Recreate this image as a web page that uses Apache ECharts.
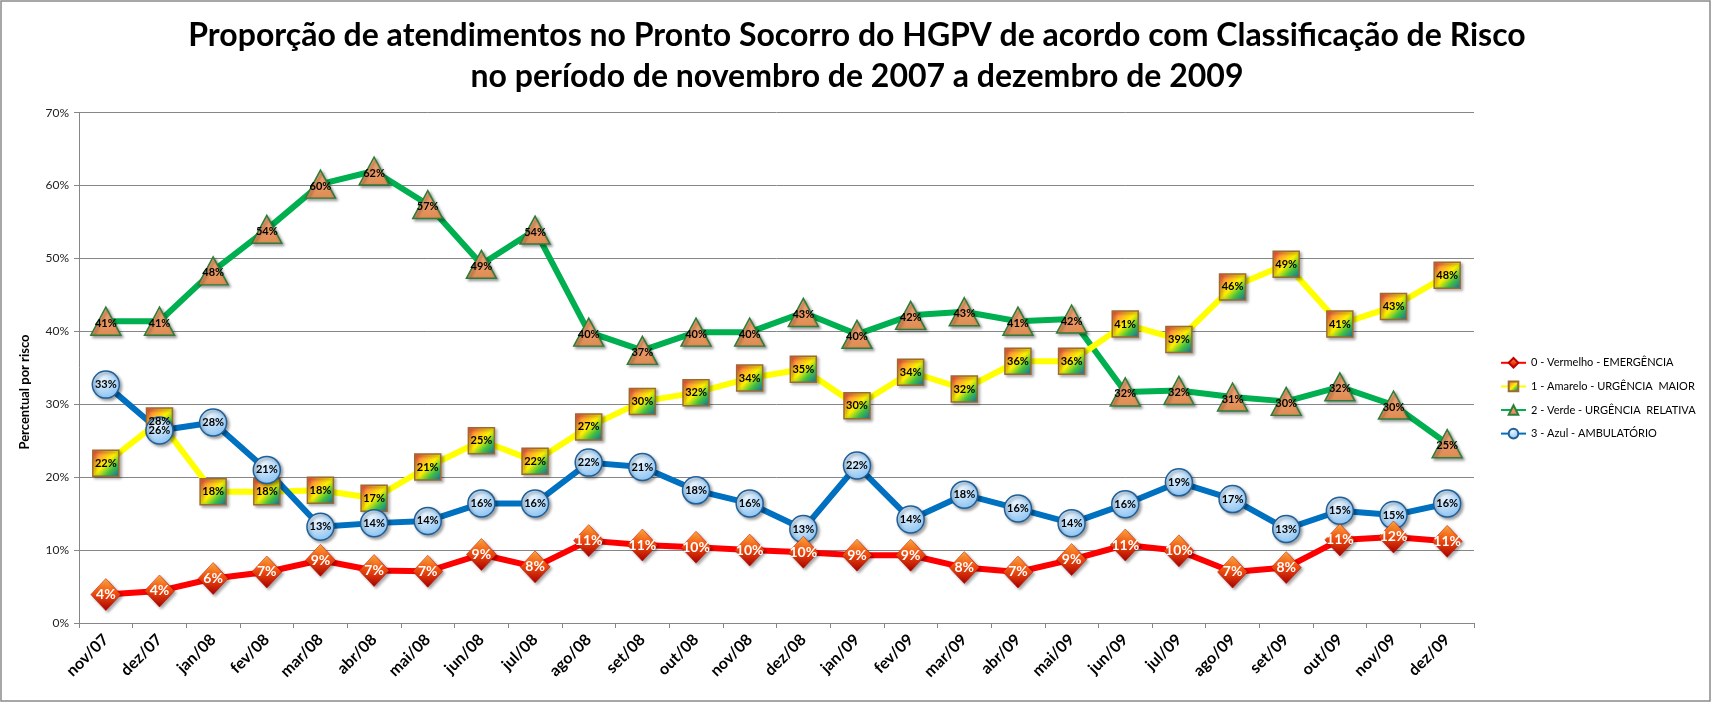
<!DOCTYPE html>
<html>
<head>
<meta charset="utf-8">
<script src="https://cdn.jsdelivr.net/npm/echarts@6/dist/echarts.min.js"></script>
<style>
html,body{margin:0;padding:0;background:#fff;}
#chart{width:1712px;height:704px;}
</style>
</head>
<body>
<div id="chart"></div>
<script>
const categories = ['nov/07','dez/07','jan/08','fev/08','mar/08','abr/08','mai/08','jun/08','jul/08','ago/08','set/08','out/08','nov/08','dez/08','jan/09','fev/09','mar/09','abr/09','mai/09','jun/09','jul/09','ago/09','set/09','out/09','nov/09','dez/09'];
const vermelho = [3.9,4.4,6.1,7.0,8.6,7.2,7.1,9.4,7.7,11.3,10.7,10.4,10.0,9.7,9.3,9.3,7.6,7.0,8.7,10.7,9.9,7.0,7.6,11.4,11.8,11.2];
const amarelo = [21.9,27.7,18.0,18.0,18.2,17.1,21.4,25.0,22.2,26.9,30.4,31.6,33.6,34.8,29.8,34.4,32.1,35.9,35.9,41.0,38.9,46.1,49.2,41.0,43.4,47.7];
const verde = [41.4,41.4,48.3,54.0,60.2,62.0,57.4,49.2,53.9,39.9,37.4,39.9,39.9,42.6,39.6,42.2,42.7,41.4,41.7,31.7,31.9,31.0,30.4,32.4,29.9,24.6];
const azul = [32.7,26.4,27.5,21.0,13.2,13.7,14.0,16.4,16.4,22.0,21.4,18.2,16.4,12.9,21.6,14.2,17.6,15.7,13.7,16.3,19.3,17.0,12.9,15.4,14.8,16.4];
const seriesNames = ['0 - Vermelho - EMERGÊNCIA','1 - Amarelo - URGÊNCIA  MAIOR','2 - Verde - URGÊNCIA  RELATIVA','3 - Azul - AMBULATÓRIO'];
const yTicks = {min:0, max:70, interval:10};
const titleLines = ['Proporção de atendimentos no Pronto Socorro do HGPV de acordo com Classificação de Risco','no período de novembro de 2007 a dezembro de 2009'];
const yAxisTitle = 'Percentual por risco';

const FONT = 'Lato, "Open Sans", sans-serif';
const shadow = {shadowBlur:3, shadowOffsetX:2, shadowOffsetY:2, shadowColor:'rgba(0,0,0,0.35)'};
const fmt = p => Math.round(p.value) + '%';

const chart = echarts.init(document.getElementById('chart'));
chart.setOption({
  backgroundColor:'#ffffff',
  animation:false,
  graphic:[
    {type:'rect', shape:{x:1,y:1,width:1709,height:700}, style:{fill:'none', stroke:'#8a8a8a', lineWidth:1.5}, silent:true},
    {type:'text', x:857, y:36, style:{text:titleLines[0], font:'bold 32px '+FONT, fill:'#000', textAlign:'center', textVerticalAlign:'middle'}},
    {type:'text', x:857, y:77, style:{text:titleLines[1], font:'bold 32px '+FONT, fill:'#000', textAlign:'center', textVerticalAlign:'middle'}},
    {type:'text', x:25, y:392, rotation:Math.PI/2, style:{text:yAxisTitle, font:'bold 13px '+FONT, fill:'#000', textAlign:'center', textVerticalAlign:'middle'}}
  ],
  grid:{left:79, right:238, top:112.7, bottom:81, containLabel:false},
  legend:{
    orient:'vertical', left:1495, top:352, itemWidth:25, itemHeight:12, itemGap:12,
    textStyle:{fontFamily:FONT, fontSize:11, color:'#000'},
    data:seriesNames
  },
  xAxis:{
    type:'category', data:categories, boundaryGap:true,
    axisLine:{lineStyle:{color:'#868686', width:1}},
    axisTick:{show:true, length:5, lineStyle:{color:'#868686'}},
    axisLabel:{rotate:45, fontFamily:FONT, fontWeight:'bold', fontSize:16, color:'#000', margin:14, interval:0}
  },
  yAxis:{
    type:'value', min:yTicks.min, max:yTicks.max, interval:yTicks.interval,
    axisLine:{show:true, lineStyle:{color:'#868686'}},
    axisTick:{show:true, length:5, lineStyle:{color:'#868686'}},
    splitLine:{lineStyle:{color:'#868686', width:1}},
    axisLabel:{formatter:'{value}%', fontFamily:FONT, fontSize:12, color:'#222', margin:10}
  },
  series:[
    {
      name:seriesNames[0], type:'line', data:vermelho, z:5,
      symbol:'diamond', symbolSize:[30,32],
      lineStyle:{color:'#FF0000', width:6},
      itemStyle:Object.assign({color:{type:'linear',x:0,y:0,x2:0,y2:1,colorStops:[{offset:0,color:'#FFB040'},{offset:0.45,color:'#F25010'},{offset:1,color:'#A80000'}]}, borderColor:'#C00000', borderWidth:0.5}, shadow),
      label:{show:true, position:'inside', formatter:fmt, color:'#fff', fontFamily:FONT, fontSize:14, fontWeight:'bold'}
    },
    {
      name:seriesNames[1], type:'line', data:amarelo, z:4,
      symbol:'rect', symbolSize:26,
      lineStyle:{color:'#FFFF00', width:6},
      itemStyle:Object.assign({color:{type:'linear',x:0,y:0,x2:1,y2:1,colorStops:[{offset:0,color:'#FF3050'},{offset:0.25,color:'#FFA030'},{offset:0.5,color:'#FFF000'},{offset:0.72,color:'#40C040'},{offset:1,color:'#1060B8'}]}, borderColor:'#9C6B30', borderWidth:1.5}, shadow),
      label:{show:true, position:'inside', formatter:fmt, color:'#000', fontFamily:FONT, fontSize:11, fontWeight:'bold'}
    },
    {
      name:seriesNames[2], type:'line', data:verde, z:3,
      symbol:'triangle', symbolSize:[30,28],
      lineStyle:{color:'#00B050', width:6},
      itemStyle:Object.assign({color:{type:'linear',x:0,y:0,x2:0,y2:1,colorStops:[{offset:0,color:'#F4A877'},{offset:1,color:'#DE8A52'}]}, borderColor:'#2E7D3A', borderWidth:1.5}, shadow),
      label:{show:true, position:'inside', formatter:fmt, color:'#000', fontFamily:FONT, fontSize:11, fontWeight:'bold', offset:[0,2]}
    },
    {
      name:seriesNames[3], type:'line', data:azul, z:4,
      symbol:'circle', symbolSize:27,
      lineStyle:{color:'#0070C0', width:6},
      itemStyle:Object.assign({color:{type:'radial',x:0.4,y:0.3,r:0.8,colorStops:[{offset:0,color:'#EAF5FF'},{offset:1,color:'#80BDF0'}]}, borderColor:'#1F5F99', borderWidth:1.5}, shadow),
      label:{show:true, position:'inside', formatter:fmt, color:'#000', fontFamily:FONT, fontSize:11, fontWeight:'bold'}
    }
  ]
});
</script>
</body>
</html>
